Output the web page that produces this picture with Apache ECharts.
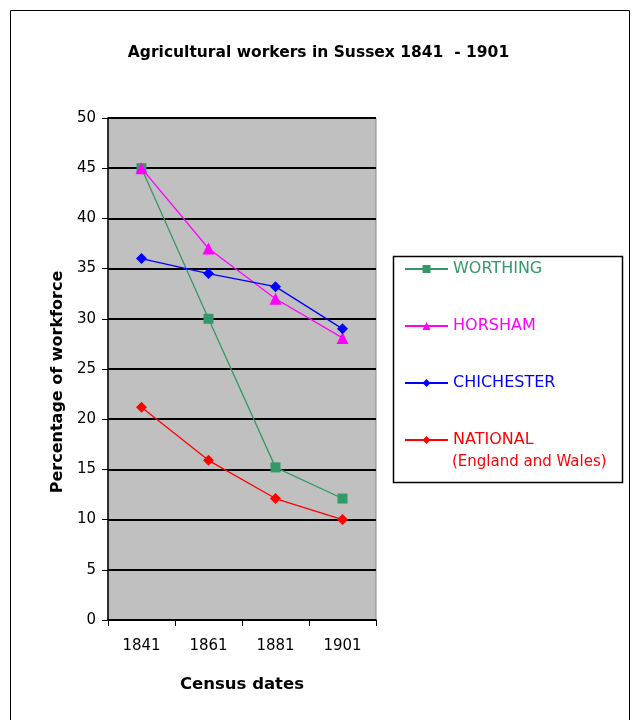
<!DOCTYPE html>
<html lang="en">
<head>
    <meta charset="UTF-8">
    <title>Agricultural workers in Sussex</title>
    <script src="https://cdn.jsdelivr.net/npm/echarts@6/dist/echarts.min.js"></script>
    <style>
        *{
            margin: 0;
            padding: 0;
        }
        .container{
            width: 637px;
            height: 720px;
        }
    </style>
</head>
<body>
<div class="container"></div>
<script>
    // census years and % of workforce in agriculture
    let years=['1841','1861','1881','1901']
    let worthing=[45,30,15.2,12.1]
    let horsham=[45,37,32,28.1]
    let chichester=[36,34.5,33.2,29]
    let national=[21.2,15.9,12.1,10]

    let font='"DejaVu Sans", sans-serif'
    let container=document.querySelector('.container')
    let echart=echarts.init(container)

    function line(name,data,color,symbol,size){
        return {
            name,
            type:'line',
            data,
            symbol,
            symbolSize:size,
            itemStyle:{color},
            lineStyle:{color,width:1.3},
            emphasis:{disabled:true},
            animation:false
        }
    }

    let option={
        backgroundColor:'#fff',
        textStyle:{fontFamily:font},
        title:{
            text:'Agricultural workers in Sussex 1841  - 1901',
            left:'center',
            top:40,
            textStyle:{fontSize:15.5,fontWeight:'bold',color:'#000',fontFamily:font}
        },
        graphic:[{
            type:'rect',
            shape:{x:10.5,y:10.5,width:619,height:730},
            style:{fill:'none',stroke:'#000',lineWidth:1}
        },{
            type:'rect',
            shape:{x:393.5,y:256.5,width:229,height:226},
            style:{fill:'none',stroke:'#000',lineWidth:1.5}
        },{
            type:'text',
            left:452,
            top:455,
            style:{text:'(England and Wales)',fill:'#ff0000',font:'15px "DejaVu Sans", sans-serif'}
        }],
        legend:{
            orient:'vertical',
            left:404,
            top:261,
            padding:0,
            itemGap:41,
            itemWidth:43,
            itemHeight:10,
            data:[
                {name:'WORTHING',textStyle:{color:'#339966'}},
                {name:'HORSHAM',textStyle:{color:'#ff00ff'}},
                {name:'CHICHESTER',textStyle:{color:'#0000ff'}},
                {name:'NATIONAL',textStyle:{color:'#ff0000'}}
            ],
            textStyle:{fontSize:16,fontFamily:font}
        },
        grid:{
            left:108,
            top:118,
            width:268,
            height:502,
            show:true,
            backgroundColor:'#c0c0c0',
            borderColor:'#8a8a8a',
            borderWidth:1
        },
        xAxis:{
            type:'category',
            data:years,
            boundaryGap:true,
            name:'Census dates',
            nameLocation:'middle',
            nameGap:56,
            nameTextStyle:{fontSize:16.5,fontWeight:'bold',color:'#000'},
            axisLine:{lineStyle:{color:'#000',width:1.5}},
            axisTick:{show:true,alignWithLabel:false,length:6,lineStyle:{color:'#000'}},
            axisLabel:{color:'#000',fontSize:15,margin:19}
        },
        yAxis:{
            type:'value',
            min:0,
            max:50,
            interval:5,
            name:'Percentage of workforce',
            nameLocation:'middle',
            nameGap:42,
            nameTextStyle:{fontSize:16,fontWeight:'bold',color:'#000',padding:[0,26,0,0]},
            axisLine:{show:true,lineStyle:{color:'#000',width:1.5}},
            axisTick:{show:true,length:6,lineStyle:{color:'#000'}},
            axisLabel:{color:'#000',fontSize:15,margin:12},
            splitLine:{lineStyle:{color:'#000',width:2}}
        },
        series:[
            line('WORTHING',worthing,'#339966','rect',10),
            line('HORSHAM',horsham,'#ff00ff','triangle',12),
            line('CHICHESTER',chichester,'#0000ff','diamond',11),
            line('NATIONAL',national,'#ff0000','diamond',11)
        ]
    }

    echart.setOption(option)
</script>
</body>
</html>
